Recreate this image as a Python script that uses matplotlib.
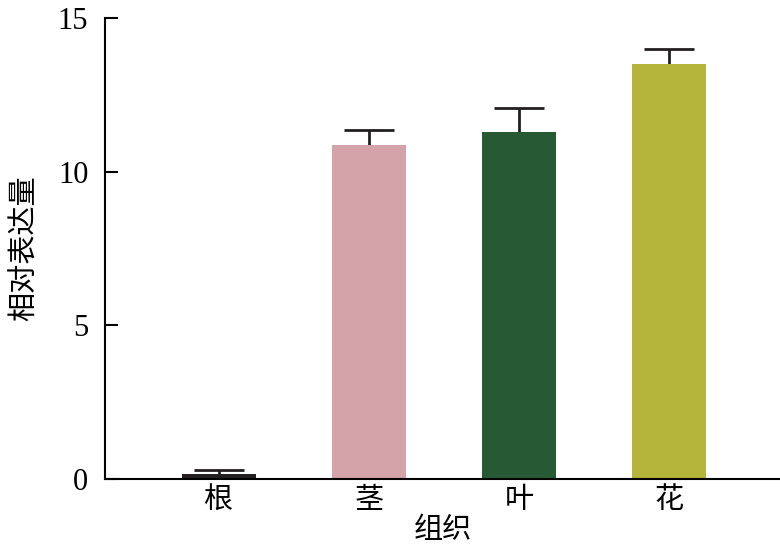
import matplotlib
matplotlib.use("Agg")
import matplotlib.pyplot as plt

categories = ["根", "茎", "叶", "花"]
values = [0.16, 10.85, 11.3, 13.5]
errors = [0.12, 0.5, 0.77, 0.48]
colors = ["#231f20", "#d4a3aa", "#265a35", "#b5b53b"]
yticks = [0, 5, 10, 15]

plt.rcParams['font.family'] = ['Liberation Serif', 'Noto Sans CJK SC']

fig = plt.figure(figsize=(7.8, 5.59), dpi=100)
ax = fig.add_axes([0.1346, 0.143, 0.8654, 0.825])
x = list(range(len(categories)))
ax.bar(x, values, width=0.49, color=colors, zorder=2)
eb = ax.errorbar(x, values, yerr=[[0]*len(errors), errors], fmt='none', ecolor='#231f20',
                 elinewidth=2, capsize=18, capthick=2, zorder=1)
# hide lower caps
eb[1][0].set_visible(False)
ax.set_xlim(-0.76, 3.74)
ax.set_ylim(0, 15)
ax.set_yticks(yticks)
ax.set_xticks(x)
ax.set_xticklabels(categories, fontsize=21)
ax.yaxis.set_tick_params(direction='in', length=9, width=1.5, labelsize=22, pad=12)
ax.xaxis.set_tick_params(length=0, pad=6)
for s in ['top', 'right']:
    ax.spines[s].set_visible(False)
for s in ['left', 'bottom']:
    ax.spines[s].set_linewidth(1.5)
ax.set_xlabel("组织", fontsize=21, labelpad=2)
ax.set_ylabel("相对表达量", fontsize=21, labelpad=14)
fig.savefig("out.png", dpi=100)
